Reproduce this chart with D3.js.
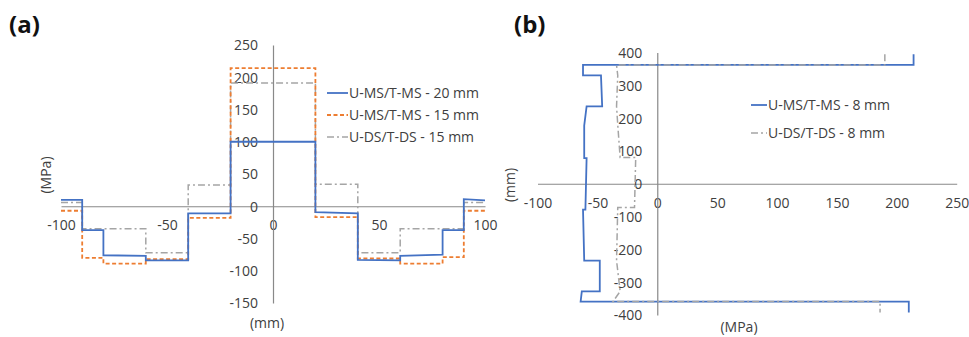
<!DOCTYPE html>
<html>
<head>
<meta charset="utf-8">
<script src="https://cdn.jsdelivr.net/npm/d3@7"></script>
<style>
  body { margin: 0; background: #fff; }
  text { font-family: "Open Sans", "Noto Sans", sans-serif; fill: #404040; }
</style>
</head>
<body>
<svg id="chart"></svg>
<script>
// ---- panel (a): stress across width ----
const aXTicks = [-100, -50, 0, 50, 100];
const aYTicks = [-150, -100, -50, 0, 50, 100, 150, 200, 250];

const a20X = [-100, -90, -90, -80, -80, -60, -60, -40, -40, -20, -20, 20, 20, 40, 40, 60, 60, 80, 80, 90, 90, 100];
const a20Y = [10, 10, -37, -37, -76, -77, -84, -84, -11, -11, 100, 100, -9, -11, -83, -84, -77, -75, -37, -37, 11, 9];

const a15X = [-100, -90, -90, -80, -80, -60, -60, -40, -40, -20, -20, 20, 20, 40, 40, 60, 60, 80, 80, 90, 90, 100];
const a15Y = [-7, -7, -80, -80, -89, -89, -82, -82, -18, -18, 214, 214, -17, -17, -81, -81, -89, -89, -79, -79, -7, -7];

const aDSX = [-100, -90, -90, -60, -60, -40, -40, -20, -20, 20, 20, 40, 40, 60, 60, 90, 90, 100];
const aDSY = [6, 6, -35, -35, -72, -72, 33, 33, 191, 191, 34, 34, -72, -72, -35, -35, 6, 6];

const aSeries = ["U-MS/T-MS - 20 mm", "U-MS/T-MS - 15 mm", "U-DS/T-DS - 15 mm"];

// ---- panel (b): stress along height (x = MPa, y = mm) ----
const bXTicks = [-100, -50, 0, 50, 100, 150, 200, 250];
const bYTicks = [-400, -300, -200, -100, 0, 100, 200, 300, 400];

const bMSX = [214, 214, -62, -62, -47, -46, -59, -61, -61, -59, -60, -62, -61, -48, -48, -63, -64, 210, 210];
const bMSY = [395, 362, 362, 330, 330, 236, 236, 177, 78, 78, -79, -79, -234, -234, -328, -328, -359, -359, -392];

const bDSX = [190, 190, -34, -33, -34, -33, -31, -18, -19, -33, -34, -31, -37, 186, 186];
const bDSY = [395, 362, 362, 330, 236, 180, 80, 80, -72, -72, -234, -328, -359, -359, -392];

const bSeries = ["U-MS/T-MS - 8 mm", "U-DS/T-DS - 8 mm"];

const blue = "#4472c4", orange = "#ed7d31", grey = "#a5a5a5", axisCol = "#898989";
const styles = [
  {color: blue, dash: null, width: 1.8},
  {color: orange, dash: "4,2.5", width: 1.8},
  {color: grey, dash: "7,3,2,3", width: 1.5}
];

const svg = d3.select("#chart").attr("width", 969).attr("height", 337);
svg.append("rect").attr("width", 969).attr("height", 337).attr("fill", "#fff");

function zip(xs, ys) { return xs.map((x, i) => [x, ys[i]]); }

// plain hyphen for negatives, like the source chart
const fmt = d => String(d);

function drawAxes(g, x, y, xTicks, yTicks) {
  const ax = g.append("g")
    .attr("transform", "translate(0," + y(0) + ")")
    .call(d3.axisBottom(x).tickValues(xTicks).tickSize(0).tickPadding(14).tickFormat(fmt));
  const ay = g.append("g")
    .attr("transform", "translate(" + x(0) + ",0)")
    .call(d3.axisLeft(y).tickValues(yTicks).tickSize(0).tickPadding(15).tickFormat(fmt));
  [ax, ay].forEach(a => {
    a.select(".domain").attr("stroke", axisCol).attr("stroke-width", 1.2);
    a.selectAll("text").attr("font-size", 14).attr("fill", "#404040")
      .attr("font-family", "'Open Sans', sans-serif");
  });
  ay.selectAll("text").attr("dy", "0.35em");
}

// ---------- (a) ----------
const xA = d3.scaleLinear().domain([-100, 100]).range([61, 485]);
const yA = d3.scaleLinear().domain([-150, 250]).range([303, 45]);
const gA = svg.append("g");
drawAxes(gA, xA, yA, aXTicks, aYTicks);

const lineA = d3.line().x(d => xA(d[0])).y(d => yA(d[1]));
const aData = [zip(a20X, a20Y), zip(a15X, a15Y), zip(aDSX, aDSY)];
[2, 1, 0].forEach(i => {
  gA.append("path").datum(aData[i])
    .attr("d", lineA).attr("fill", "none")
    .attr("stroke", styles[i].color).attr("stroke-width", styles[i].width)
    .attr("stroke-dasharray", styles[i].dash);
});

aSeries.forEach((s, i) => {
  const yy = 93 + i * 22;
  gA.append("line").attr("x1", 327).attr("x2", 348).attr("y1", yy).attr("y2", yy)
    .attr("stroke", styles[i].color).attr("stroke-width", styles[i].width)
    .attr("stroke-dasharray", styles[i].dash);
  gA.append("text").attr("x", 349).attr("y", yy).attr("dy", "0.35em")
    .attr("font-size", 14).text(s);
});

svg.append("text").attr("x", 9).attr("y", 33).attr("font-size", 24)
  .attr("font-weight", "bold").style("fill", "#111").text("(a)");
svg.append("text").attr("x", 267).attr("y", 328).attr("text-anchor", "middle")
  .attr("font-size", 14).text("(mm)");
svg.append("text").attr("transform", "translate(51,175) rotate(-90)")
  .attr("text-anchor", "middle").attr("font-size", 14).text("(MPa)");

// ---------- (b) ----------
const xB = d3.scaleLinear().domain([-100, 250]).range([537.5, 956.7]);
const yB = d3.scaleLinear().domain([-400, 400]).range([315, 52.5]);
const gB = svg.append("g");
drawAxes(gB, xB, yB, bXTicks, bYTicks);

const lineB = d3.line().x(d => xB(d[0])).y(d => yB(d[1]));
const bData = [zip(bMSX, bMSY), zip(bDSX, bDSY)];
const bStyles = [styles[0], styles[2]];
[0, 1].forEach(i => {
  gB.append("path").datum(bData[i])
    .attr("d", lineB).attr("fill", "none")
    .attr("stroke", bStyles[i].color).attr("stroke-width", bStyles[i].width)
    .attr("stroke-dasharray", bStyles[i].dash);
});

bSeries.forEach((s, i) => {
  const yy = 105 + i * 28;
  gB.append("line").attr("x1", 751).attr("x2", 767).attr("y1", yy).attr("y2", yy)
    .attr("stroke", bStyles[i].color).attr("stroke-width", bStyles[i].width)
    .attr("stroke-dasharray", bStyles[i].dash);
  gB.append("text").attr("x", 768).attr("y", yy).attr("dy", "0.35em")
    .attr("font-size", 14).text(s);
});

svg.append("text").attr("x", 514).attr("y", 33).attr("font-size", 24)
  .attr("font-weight", "bold").style("fill", "#111").text("(b)");
svg.append("text").attr("x", 739).attr("y", 332).attr("text-anchor", "middle")
  .attr("font-size", 14).text("(MPa)");
svg.append("text").attr("transform", "translate(515,185) rotate(-90)")
  .attr("text-anchor", "middle").attr("font-size", 14).text("(mm)");
</script>
</body>
</html>
